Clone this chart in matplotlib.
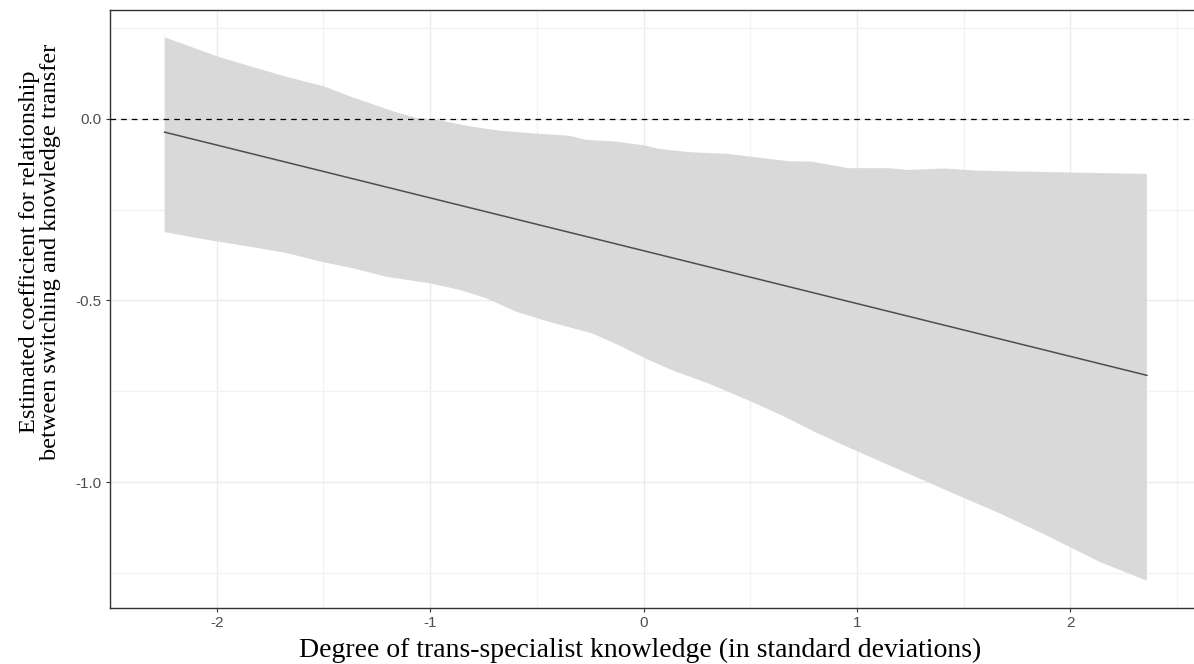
import numpy as np
import matplotlib
matplotlib.use("Agg")
import matplotlib.pyplot as plt

# confidence band, upper edge (x, y)
upper_x = [-2.244, -2.000, -1.951, -1.685, -1.498, -1.374, -1.265, -1.172, -1.063,
           -0.970, -0.814, -0.674, -0.503, -0.347, -0.270, -0.130, 0.010, 0.072,
           0.212, 0.399, 0.523, 0.679, 0.787, 0.958, 1.145, 1.238, 1.409, 1.565,
           2.000, 2.358]
upper_y = [0.224, 0.172, 0.163, 0.117, 0.089, 0.061, 0.039, 0.020, 0.002,
           -0.003, -0.021, -0.033, -0.041, -0.047, -0.058, -0.063, -0.074, -0.083,
           -0.092, -0.097, -0.106, -0.117, -0.118, -0.136, -0.136, -0.141, -0.137, -0.143,
           -0.148, -0.152]

# confidence band, lower edge (x, y)
lower_x = [-2.244, -2.057, -1.825, -1.669, -1.514, -1.358, -1.203, -1.000, -0.861,
           -0.736, -0.597, -0.441, -0.239, -0.099, 0.010, 0.134, 0.306, 0.492,
           0.647, 0.803, 0.974, 1.207, 1.456, 1.674, 1.907, 2.140, 2.358]
lower_y = [-0.312, -0.332, -0.354, -0.370, -0.393, -0.412, -0.435, -0.453, -0.471,
           -0.494, -0.531, -0.559, -0.591, -0.628, -0.660, -0.692, -0.729, -0.775,
           -0.816, -0.862, -0.908, -0.968, -1.032, -1.087, -1.152, -1.220, -1.271]

# estimated coefficient line
line_x = [-2.244, 2.358]
line_y = [-0.037, -0.706]

x_ticks = [-2, -1, 0, 1, 2]
x_labels = ["-2", "-1", "0", "1", "2"]
y_ticks = [0.0, -0.5, -1.0]
y_labels = ["0.0", "-0.5", "-1.0"]

fig = plt.figure(figsize=(11.94, 6.64), dpi=100)
ax = fig.add_axes([110 / 1194, 1 - 608 / 664, (1196 - 110) / 1194, 598 / 664])

ax.fill(np.concatenate([upper_x, lower_x[::-1]]),
        np.concatenate([upper_y, lower_y[::-1]]),
        color="#D9D9D9", lw=0, zorder=2)
ax.plot(line_x, line_y, color="#4D4D4D", lw=1.1, zorder=3)
ax.axhline(0, color="black", lw=0.9, ls=(0, (4.5, 4)), zorder=4)

ax.set_xlim(-2.474, 2.588)
ax.set_ylim(-1.346, 0.299)

ax.set_xticks(x_ticks)
ax.set_xticklabels(x_labels)
ax.set_yticks(y_ticks)
ax.set_yticklabels(y_labels)
ax.set_xticks([-2.5, -1.5, -0.5, 0.5, 1.5, 2.5], minor=True)
ax.set_yticks([0.25, -0.25, -0.75, -1.25], minor=True)

ax.grid(True, which="major", color="#EBEBEB", lw=1.0, zorder=0)
ax.grid(True, which="minor", color="#F2F2F2", lw=1.0, zorder=0)
ax.set_axisbelow(True)

ax.tick_params(which="major", length=3, width=0.8, color="#333333",
               labelsize=11, labelcolor="#4D4D4D", pad=3)
ax.tick_params(which="minor", length=0)
for lab in ax.get_xticklabels() + ax.get_yticklabels():
    lab.set_family("Liberation Sans")

for s in ax.spines.values():
    s.set_color("#333333")
    s.set_linewidth(1.0)

ax.set_xlabel("Degree of trans-specialist knowledge (in standard deviations)",
              family="Liberation Serif", fontsize=20)
ax.xaxis.set_label_coords(0.488, -0.050)
ax.set_ylabel("Estimated coefficient for relationship\nbetween switching and knowledge transfer",
              family="Liberation Serif", fontsize=17.5, linespacing=1.0)
ax.yaxis.set_label_coords(-0.045, 0.595)

fig.savefig("out.png", dpi=100)
